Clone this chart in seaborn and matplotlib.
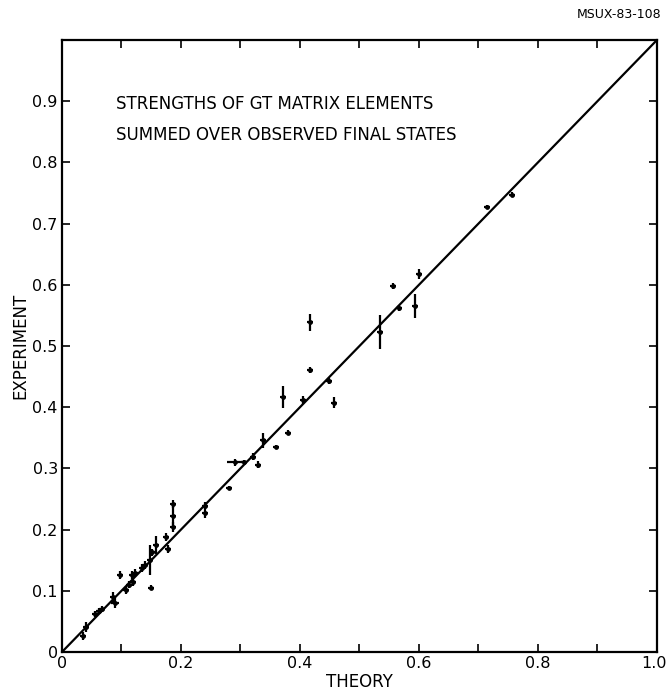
import matplotlib
matplotlib.use("Agg")
import matplotlib.pyplot as plt
import matplotlib.transforms as mtransforms
import seaborn as sns
import numpy as np
import pandas as pd

theory = [0.035, 0.040, 0.055, 0.062, 0.068, 0.086, 0.089, 0.097, 0.108, 0.112,
          0.118, 0.123, 0.119, 0.134, 0.139, 0.148, 0.150, 0.152, 0.158, 0.175,
          0.178, 0.187, 0.187, 0.187, 0.240, 0.240, 0.281, 0.291, 0.306, 0.321,
          0.329, 0.338, 0.360, 0.380, 0.371, 0.405, 0.417, 0.417, 0.449, 0.457,
          0.534, 0.556, 0.566, 0.593, 0.600, 0.714, 0.756]
experiment = [0.026, 0.041, 0.062, 0.067, 0.070, 0.090, 0.080, 0.126, 0.101, 0.110,
              0.126, 0.129, 0.114, 0.137, 0.142, 0.150, 0.105, 0.163, 0.175, 0.188,
              0.168, 0.242, 0.222, 0.204, 0.239, 0.227, 0.268, 0.310, 0.310, 0.319,
              0.306, 0.346, 0.335, 0.358, 0.417, 0.412, 0.461, 0.539, 0.443, 0.407,
              0.523, 0.598, 0.562, 0.565, 0.618, 0.727, 0.747]
exp_err = [0.006, 0.008, 0.005, 0.005, 0.005, 0.008, 0.008, 0.006, 0.006, 0.006,
           0.006, 0.006, 0.006, 0.006, 0.006, 0.025, 0.004, 0.006, 0.015, 0.006,
           0.006, 0.006, 0.020, 0.008, 0.006, 0.008, 0.004, 0.006, 0.004, 0.006,
           0.006, 0.012, 0.004, 0.004, 0.018, 0.006, 0.005, 0.014, 0.005, 0.009,
           0.028, 0.005, 0.005, 0.020, 0.008, 0.003, 0.004]
theory_err = [0.005] * len(theory)
theory_err[27] = 0.013
theory_err[6] = 0.006

xticks_major = [0, 0.2, 0.4, 0.6, 0.8, 1.0]
xtick_labels = ["0", "0.2", "0.4", "0.6", "0.8", "1.0"]
yticks = [0, 0.1, 0.2, 0.3, 0.4, 0.5, 0.6, 0.7, 0.8, 0.9]
ytick_labels = ["0", "0.1", "0.2", "0.3", "0.4", "0.5", "0.6", "0.7", "0.8", "0.9"]

df = pd.DataFrame({"theory": theory, "experiment": experiment})
line_df = pd.DataFrame({"x": [0.0, 1.0], "y": [0.0, 1.0]})

sns.set_style("ticks")
plt.rcParams["font.family"] = ["DejaVu Sans"]
plt.rcParams["text.color"] = "black"
plt.rcParams["axes.labelcolor"] = "black"
plt.rcParams["xtick.color"] = "black"
plt.rcParams["ytick.color"] = "black"

fig = plt.figure(figsize=(6.68, 6.93), dpi=100)
ax = fig.add_axes([0.0928, 0.0592, 0.8907, 0.8831])

sns.lineplot(data=line_df, x="x", y="y", ax=ax, color="black", lw=1.6)
ax.errorbar(theory, experiment, yerr=exp_err, xerr=theory_err, fmt="none",
            ecolor="black", elinewidth=1.6, capsize=0)
sns.scatterplot(data=df, x="theory", y="experiment", ax=ax, color="black",
                s=12, marker="o", edgecolor="black", linewidth=0)

ax.set_xlim(0, 1.0)
ax.set_ylim(0, 1.0)
ax.set_xticks(xticks_major)
ax.set_xticklabels(xtick_labels, fontsize=11.5, color="black")
ax.set_xticks(np.arange(0.1, 1.0, 0.2), minor=True)
ax.set_yticks(yticks)
ax.set_yticklabels(ytick_labels, fontsize=11.5, color="black")
ax.tick_params(axis="both", which="both", direction="in", top=True, right=True,
               length=6, width=1.2, color="black", pad=3)
last = ax.get_xticklabels()[-1]
last.set_transform(last.get_transform() +
                   mtransforms.ScaledTranslation(-3 / 100, 0, fig.dpi_scale_trans))
for sp in ax.spines.values():
    sp.set_linewidth(1.6)
    sp.set_color("black")

ax.set_xlabel("THEORY", fontsize=12, labelpad=1, color="black")
ax.set_ylabel("EXPERIMENT", fontsize=12, labelpad=2, color="black")

ax.text(0.09, 0.895, "STRENGTHS OF GT MATRIX ELEMENTS", transform=ax.transAxes,
        fontsize=12, ha="left", va="center", color="black")
ax.text(0.09, 0.845, "SUMMED OVER OBSERVED FINAL STATES", transform=ax.transAxes,
        fontsize=12, ha="left", va="center", color="black")
fig.text(0.99, 0.988, "MSUX-83-108", fontsize=9, ha="right", va="top",
         color="black")

fig.savefig("out.png", dpi=100)
